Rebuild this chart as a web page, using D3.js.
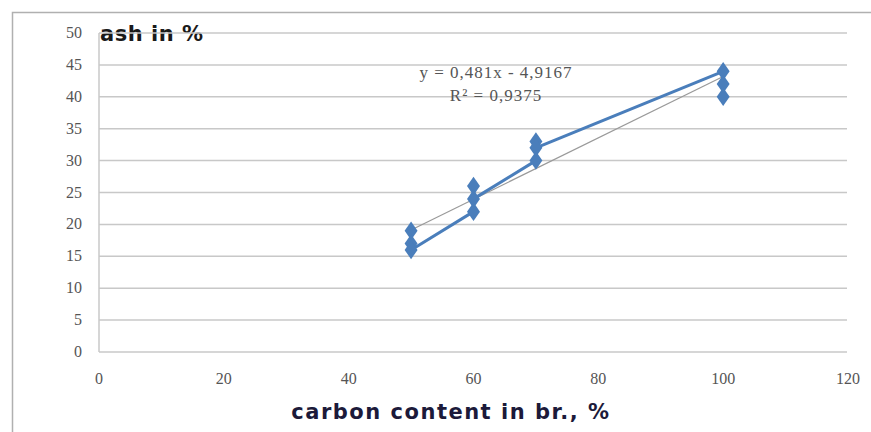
<!DOCTYPE html>
<html>
<head>
<meta charset="utf-8">
<script src="https://cdn.jsdelivr.net/npm/d3@7"></script>
<style>
  body { margin: 0; background: #fff; }
</style>
</head>
<body>
<div id="chart"></div>
<script>
const width = 871;
const height = 432;

// data
const carbon = [50, 50, 50, 60, 60, 60, 70, 70, 70, 100, 100, 100];
const ash = [19, 17, 16, 22, 26, 24, 30, 33, 32, 44, 42, 40];
const xTicks = [0, 20, 40, 60, 80, 100, 120];
const yTicks = [0, 5, 10, 15, 20, 25, 30, 35, 40, 45, 50];
const trendSlope = 0.481;
const trendIntercept = -4.9167;
const trendLabel = ["y = 0,481x - 4,9167", "R² = 0,9375"];

const points = carbon.map((c, i) => ({ x: c, y: ash[i] }));

const svg = d3.select("#chart")
	.append("svg")
	.attr("width", width)
	.attr("height", height);

// outer frame
svg.append("rect")
	.attr("x", 12.5)
	.attr("y", 12.5)
	.attr("width", width)
	.attr("height", height)
	.attr("fill", "none")
	.attr("stroke", "#b0b0b0")
	.attr("stroke-width", 1.5);

const x = d3.scaleLinear().domain([0, 120]).range([99, 848]);
const y = d3.scaleLinear().domain([0, 50]).range([352, 33]);

// y title sits under the top gridline, as in the original
svg.append("text")
	.attr("x", 100)
	.attr("y", 41)
	.attr("font-family", "'DejaVu Sans', sans-serif")
	.attr("font-weight", "bold")
	.attr("font-size", 21)
	.attr("letter-spacing", 0.5)
	.attr("fill", "#1a1a1a")
	.text("ash in %");

// gridlines
svg.append("g")
	.selectAll("line")
	.data(yTicks)
	.enter().append("line")
	.attr("x1", x(0))
	.attr("x2", x(120) - 1)
	.attr("y1", d => y(d))
	.attr("y2", d => y(d))
	.attr("stroke", "#c8c8c8")
	.attr("stroke-width", 1.5);

// y axis line
svg.append("line")
	.attr("x1", x(0)).attr("x2", x(0))
	.attr("y1", y(50)).attr("y2", y(0))
	.attr("stroke", "#c8c8c8")
	.attr("stroke-width", 1.5);

const tickFont = "'Liberation Serif', 'DejaVu Serif', serif";

// y tick labels
svg.append("g")
	.selectAll("text")
	.data(yTicks)
	.enter().append("text")
	.attr("x", 82)
	.attr("y", d => y(d) + 5)
	.attr("text-anchor", "end")
	.attr("font-family", tickFont)
	.attr("font-size", 16)
	.attr("fill", "#555")
	.text(d => d);

// x tick labels
svg.append("g")
	.selectAll("text")
	.data(xTicks)
	.enter().append("text")
	.attr("x", d => x(d))
	.attr("y", 384)
	.attr("text-anchor", "middle")
	.attr("font-family", tickFont)
	.attr("font-size", 16)
	.attr("fill", "#555")
	.text(d => d);

// trend line
svg.append("line")
	.attr("x1", x(50))
	.attr("y1", y(trendSlope * 50 + trendIntercept))
	.attr("x2", x(100))
	.attr("y2", y(trendSlope * 100 + trendIntercept))
	.attr("stroke", "#9a9a9a")
	.attr("stroke-width", 1.2);

// data line
const line = d3.line()
	.x(d => x(d.x))
	.y(d => y(d.y));

svg.append("path")
	.datum(points)
	.attr("d", line)
	.attr("fill", "none")
	.attr("stroke", "#4a7ebb")
	.attr("stroke-width", 3)
	.attr("stroke-linejoin", "round");

// markers
svg.append("g")
	.selectAll("path")
	.data(points)
	.enter().append("path")
	.attr("d", d3.symbol().type(d3.symbolDiamond).size(110))
	.attr("transform", d => `translate(${x(d.x)},${y(d.y)}) scale(1.15,0.95)`)
	.attr("fill", "#4a7ebb");

// equation label
svg.append("g")
	.selectAll("text")
	.data(trendLabel)
	.enter().append("text")
	.attr("x", 496)
	.attr("y", (d, i) => 78 + i * 23)
	.attr("text-anchor", "middle")
	.attr("font-family", tickFont)
	.attr("font-size", 17)
	.attr("letter-spacing", 1)
	.attr("fill", "#555")
	.text(d => d);

// x title
svg.append("text")
	.attr("x", 451)
	.attr("y", 419)
	.attr("text-anchor", "middle")
	.attr("font-family", "'DejaVu Sans', sans-serif")
	.attr("font-weight", "bold")
	.attr("font-size", 21)
	.attr("letter-spacing", 1.5)
	.attr("fill", "#1c1a3a")
	.text("carbon content in br., %");
</script>
</body>
</html>
